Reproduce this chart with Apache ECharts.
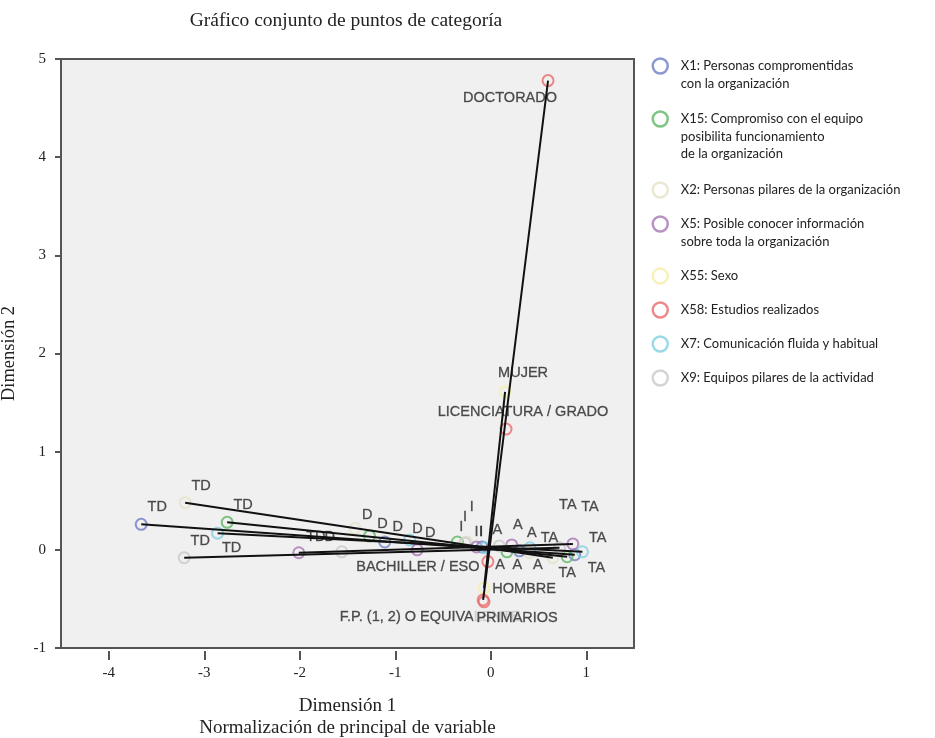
<!DOCTYPE html>
<html><head><meta charset="utf-8">
<script src="https://cdn.jsdelivr.net/npm/echarts@6/dist/echarts.min.js"></script>
<style>html,body{margin:0;padding:0;background:#fff}#c{width:935px;height:738px}</style>
</head><body><div id="c"></div>
<script>
// ---- data ----
const likertCats = ['TD', 'D', 'I', 'A', 'TA'];
const x1X = [-3.66, -1.11, -0.09, 0.30, 0.88];
const x1Y = [0.26, 0.08, 0.03, -0.01, -0.05];
const x15X = [-2.76, -1.27, -0.35, 0.17, 0.80];
const x15Y = [0.28, 0.14, 0.08, -0.02, -0.07];
const x2X = [-3.20, -1.42, -0.25, 0.41, 0.65];
const x2Y = [0.48, 0.22, 0.08, -0.03, -0.08];
const x5X = [-2.01, -0.77, -0.15, 0.22, 0.86];
const x5Y = [-0.03, 0.00, 0.03, 0.05, 0.06];
const x7X = [-2.86, -0.85, -0.06, 0.41, 0.96];
const x7Y = [0.17, 0.10, 0.02, 0.02, -0.02];
const x9X = [-3.21, -1.56, -0.27, 0.09, 0.72];
const x9Y = [-0.08, -0.02, 0.07, 0.04, 0.02];
const sexoCats = ['MUJER', 'HOMBRE'];
const sexoX = [0.15, -0.07];
const sexoY = [1.61, -0.39];
const estudiosCats = ['F.P. (1, 2) O EQUIVALENTE', 'PRIMARIOS', 'BACHILLER / ESO', 'LICENCIATURA / GRADO', 'DOCTORADO'];
const estudiosX = [-0.08, -0.07, -0.03, 0.16, 0.60];
const estudiosY = [-0.51, -0.53, -0.12, 1.23, 4.78];
const xTicks = [-4, -3, -2, -1, 0, 1];
const yTicks = [-1, 0, 1, 2, 3, 4, 5];

const variables = [
  {key: 'X1', name: 'X1: Personas compromentidas\ncon la organización', cats: likertCats, xs: x1X, ys: x1Y, color: '#6f7ec6'},
  {key: 'X15', name: 'X15: Compromiso con el equipo\nposibilita funcionamiento\nde la organización', cats: likertCats, xs: x15X, ys: x15Y, color: '#5fb763'},
  {key: 'X2', name: 'X2: Personas pilares de la organización', cats: likertCats, xs: x2X, ys: x2Y, color: '#e5e2c8'},
  {key: 'X5', name: 'X5: Posible conocer información\nsobre toda la organización', cats: likertCats, xs: x5X, ys: x5Y, color: '#a877b4'},
  {key: 'X55', name: 'X55: Sexo', cats: sexoCats, xs: sexoX, ys: sexoY, color: '#f6efa9'},
  {key: 'X58', name: 'X58: Estudios realizados', cats: estudiosCats, xs: estudiosX, ys: estudiosY, color: '#ea6b6e'},
  {key: 'X7', name: 'X7: Comunicación fluida y habitual', cats: likertCats, xs: x7X, ys: x7Y, color: '#82d0e0'},
  {key: 'X9', name: 'X9: Equipos pilares de la actividad', cats: likertCats, xs: x9X, ys: x9Y, color: '#c9c9c9'}
];

// ---- label placement (pixel offsets from point centre) ----
const defaultOffset = [16, -17];
const labelOffsets = {
  'X7|TD': [14, 15], 'X5|TD': [17, -16], 'X9|D': [-12, -15],
  'X2|D': [12, -13], 'X15|D': [13, -12], 'X1|D': [13, -15], 'X7|D': [8, -11], 'X5|D': [13, -17],
  'X15|I': [4, -15], 'X9|I': [0, -26], 'X2|I': [5, -35], 'X5|I': [0, -15], 'X1|I': [-1, -15], 'X7|I': [-4, -16],
  'X9|A': [-2, -16], 'X5|A': [6, -20], 'X7|A': [2, -15], 'X15|A': [-7, 13], 'X1|A': [-2, 14], 'X2|A': [8, 12],
  'X9|TA': [-10, -10], 'X5|TA': [17, -37], 'X2|TA': [15, -53], 'X1|TA': [23, -17], 'X15|TA': [0, 16], 'X7|TA': [14, 16],
  'X58|DOCTORADO': [-38, 17], 'X58|LICENCIATURA / GRADO': [17, -17], 'X55|MUJER': [18, -19],
  'X58|BACHILLER / ESO': [-70, 5], 'X55|HOMBRE': [40, 1],
  'X58|F.P. (1, 2) O EQUIVALENTE': [-53, 17], 'X58|PRIMARIOS': [33, 16]
};
const legendCentres = [66, 119, 190, 224, 276, 310, 344, 378];

const labelFont = {fontFamily: 'Liberation Sans', fontSize: 14.5, color: '#262626',
  textBorderColor: '#555', textBorderWidth: 0.35};
const serif = 'Liberation Serif';

const series = [];
variables.forEach(v => {
  const pts = v.cats.map((c, i) => {
    const item = {
      name: c, value: [v.xs[i], v.ys[i]],
      label: {offset: labelOffsets[v.key + '|' + c] || defaultOffset}
    };
    if (c === 'PRIMARIOS') {
      item.label.backgroundColor = '#f0f0f0';
      item.label.padding = [1, 3];
    }
    return item;
  });
  series.push({
    type: 'scatter', name: v.name, data: pts, z: 2,
    symbol: 'circle', symbolSize: 11,
    itemStyle: {color: 'rgba(0,0,0,0)', borderColor: v.color, borderWidth: 2},
    label: Object.assign({show: true, position: 'inside', formatter: '{b}'}, labelFont),
    emphasis: {disabled: true}, silent: true
  });
  const n = v.cats.length - 1;
  series.push({
    type: 'line', name: v.key + ' vector', z: 3, silent: true,
    data: [[v.xs[0], v.ys[0]], [v.xs[n], v.ys[n]]],
    symbol: 'none', lineStyle: {color: '#111', width: 2}
  });
});

const LH = 17.5;
const legends = variables.map((v, i) => {
  const lines = v.name.split('\n').length;
  return {
    data: [v.name], orient: 'vertical', left: 651.5,
    top: legendCentres[i] - (2 * lines - 1) * LH / 2,
    padding: 0, icon: 'circle', itemWidth: 15, itemHeight: 15,
    itemStyle: {color: 'rgba(0,0,0,0)', borderColor: 'inherit', borderWidth: 2.5},
    formatter: name => '\n'.repeat(lines - 1) + name,
    textStyle: {fontFamily: 'Lato', fontSize: 13, color: '#222', lineHeight: LH,
      padding: [0, 0, 0, 8]}
  };
});

const chart = echarts.init(document.getElementById('c'), null, {renderer: 'canvas'});
chart.setOption({
  animation: false,
  backgroundColor: '#fff',
  title: {
    text: 'Gráfico conjunto de puntos de categoría', left: 341, textAlign: 'center', top: 6,
    textStyle: {fontFamily: serif, fontSize: 19.5, fontWeight: 'normal', color: '#222'}
  },
  legend: legends,
  grid: {left: 61, top: 59, width: 573, height: 589, show: true, outerBoundsMode: 'none',
    containLabel: false,
    backgroundColor: '#f0f0f0', borderColor: '#555', borderWidth: 2},
  xAxis: {
    type: 'value', min: -4.5, max: 1.5, offset: 3,
    name: 'Dimensión 1\nNormalización de principal de variable',
    nameLocation: 'middle', nameGap: 44,
    nameTextStyle: {fontFamily: serif, fontSize: 19, color: '#222', lineHeight: 22},
    axisLine: {show: false, onZero: false},
    axisTick: {show: true, length: 9, lineStyle: {color: '#555', width: 2}, customValues: xTicks},
    axisLabel: {fontFamily: serif, fontSize: 15, color: '#222', margin: 15, customValues: xTicks},
    splitLine: {show: false}
  },
  yAxis: {
    type: 'value', min: -1, max: 5, interval: 1,
    name: 'Dimensión 2', nameLocation: 'middle', nameGap: 42,
    nameTextStyle: {fontFamily: serif, fontSize: 18.5, color: '#222'},
    axisLine: {show: false, onZero: false},
    axisTick: {show: true, length: 6, lineStyle: {color: '#555', width: 2}},
    axisLabel: {fontFamily: serif, fontSize: 15, color: '#222', margin: 15},
    splitLine: {show: false}
  },
  series: series
});
</script>
</body></html>
